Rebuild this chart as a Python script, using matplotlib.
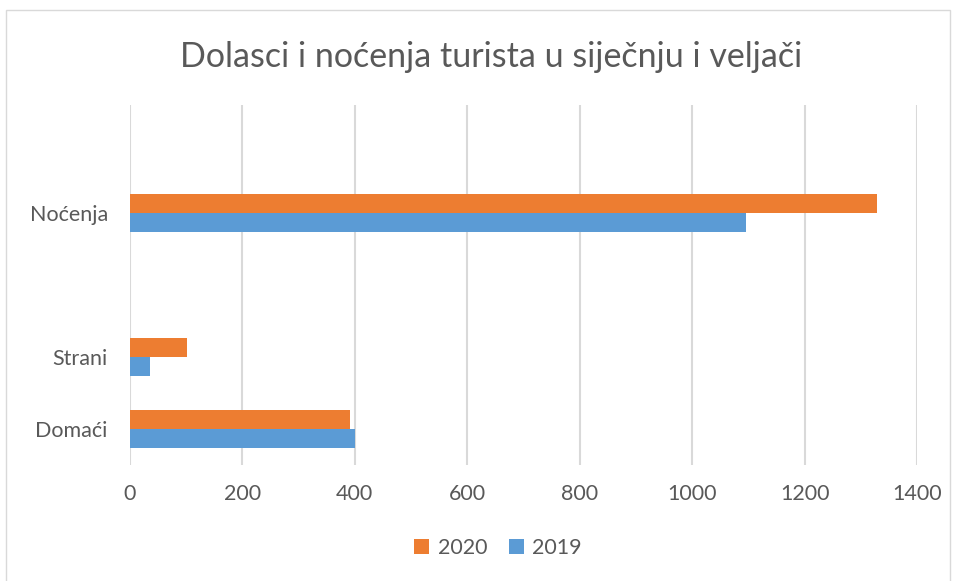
import numpy as np
import matplotlib.pyplot as plt
from matplotlib.patches import Rectangle

plt.rcParams['font.family'] = ['Lato', 'DejaVu Sans']

# data (empty categories are spacer slots, as in the original chart)
categories = ["Domaći", "Strani", "", "Noćenja", ""]
v2020 = [391, 101, np.nan, 1328, np.nan]
v2019 = [400, 35, np.nan, 1095, np.nan]
xticks = [0, 200, 400, 600, 800, 1000, 1200, 1400]

c2020 = "#ED7D31"
c2019 = "#5B9BD5"
grey = "#595959"

fig = plt.figure(figsize=(9.57, 5.81), dpi=100)
ax = fig.add_axes([130 / 957, 1 - 465 / 581, 787 / 957, 360 / 581])

y = np.arange(len(categories))
h = 0.26
ax.barh(y - h / 2, v2019, height=h, color=c2019, label="2019", zorder=3)
ax.barh(y + h / 2, v2020, height=h, color=c2020, label="2020", zorder=3)

ax.set_xlim(0, 1400)
ax.set_ylim(-0.5, len(categories) - 0.5)
ax.set_xticks(xticks)
ax.set_xticklabels([str(t) for t in xticks])
ax.set_yticks(y)
ax.set_yticklabels(categories)
ax.grid(axis="x", color="#d9d9d9", linewidth=1.5, zorder=0)
for s in ax.spines.values():
    s.set_visible(False)
ax.tick_params(axis="both", length=0, labelsize=15.5, labelcolor=grey)
ax.tick_params(axis="x", pad=14)
ax.tick_params(axis="y", pad=16)

fig.suptitle("Dolasci i noćenja turista u siječnju i veljači", x=491 / 957, y=1 - 57 / 581,
             va="center", fontsize=24.5, color=grey)

handles, labels = ax.get_legend_handles_labels()
fig.legend(handles[::-1], labels[::-1], loc="center", bbox_to_anchor=(498 / 957, 1 - 548 / 581),
           ncol=2, frameon=False, fontsize=15.5, labelcolor=grey,
           handlelength=0.7, handleheight=0.7, handletextpad=0.4, columnspacing=1.0)

fig.patches.append(Rectangle((6 / 957, -0.01), 944 / 957, 1 - 10 / 581 + 0.01,
                             transform=fig.transFigure, fill=False,
                             edgecolor="#d9d9d9", linewidth=1))

fig.savefig("out.png", dpi=100)
